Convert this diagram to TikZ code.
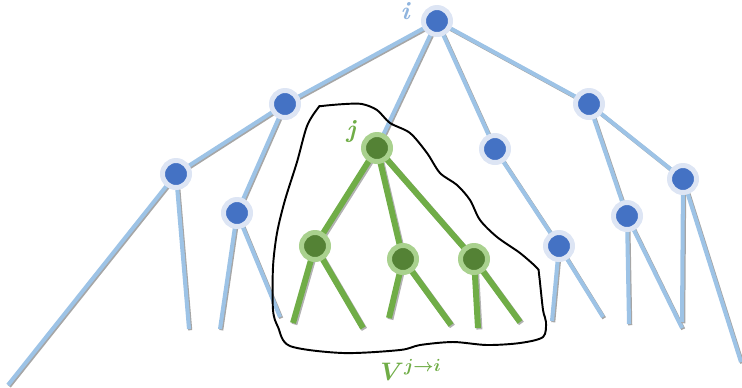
\documentclass[tikz,border=0pt]{standalone}
\usepackage{amsmath,amssymb,bm}
\usetikzlibrary{shadows,backgrounds}

\definecolor{edgeblue}{HTML}{9DC3E6}
\definecolor{ringblue}{HTML}{DDE5F4}
\definecolor{coreblue}{HTML}{4472C4}
\definecolor{edgegreen}{HTML}{70AD47}
\definecolor{ringgreen}{HTML}{A9D18E}
\definecolor{coregreen}{HTML}{548235}
\definecolor{labelblue}{HTML}{8FB4DE}

\tikzset{
  bnode/.style={circle, fill=coreblue, draw=ringblue, line width=0.1cm,
    minimum size=0.54cm, inner sep=0pt,
    drop shadow={shadow xshift=0.8pt, shadow yshift=-0.8pt, opacity=0.35}},
  gnode/.style={bnode, fill=coregreen, draw=ringgreen},
  bedge/.style={draw=edgeblue, line width=2.3pt,
    preaction={draw=black!35, line width=2.3pt,
      transform canvas={shift={(0.7pt,-0.7pt)}}}},
  gedge/.style={draw=edgegreen, line width=3.4pt,
    preaction={draw=black!30, line width=3.4pt,
      transform canvas={shift={(0.8pt,-0.8pt)}}}}
}

\begin{document}
\begin{tikzpicture}[x=0.02cm, y=-0.02cm]
\useasboundingbox (0,0) rectangle (742,387);
%\draw[step=50,gray,very thin] (0,0) grid (742,387);
% blue nodes
\node[bnode] (i) at (437,21) {};
\node[bnode] (a) at (285,104) {};
\node[bnode] (b) at (176,174) {};
\node[bnode] (c) at (237,213) {};
\node[bnode] (d) at (495,149) {};
\node[bnode] (e) at (589,104) {};
\node[bnode] (f) at (559,246) {};
\node[bnode] (g) at (627,216) {};
\node[bnode] (h) at (683,179) {};
% green subtree
\node[gnode] (j) at (377,148) {};
\node[gnode] (j1) at (315,246) {};
\node[gnode] (j2) at (403,259) {};
\node[gnode] (j3) at (474,259) {};
% leaves
\coordinate (b1) at (8,385);
\coordinate (b2) at (189,329);
\coordinate (c1) at (220,329);
\coordinate (c2) at (280,317);
\coordinate (f1) at (552,321);
\coordinate (f2) at (603,317);
\coordinate (g1) at (629,324);
\coordinate (g2) at (682,328);
\coordinate (h1) at (682,322);
\coordinate (h2) at (741,362);
\coordinate (k1) at (293,323);
\coordinate (k2) at (363,328);
\coordinate (k3) at (389,318);
\coordinate (k4) at (451,325);
\coordinate (k5) at (478,328);
\coordinate (k6) at (520,322);

\begin{pgfonlayer}{background}
\draw[bedge] (i.center) -- (a.center);
\draw[bedge] (i.center) -- (j.center);
\draw[bedge] (i.center) -- (d.center);
\draw[bedge] (i.center) -- (e.center);
\draw[bedge] (a.center) -- (b.center);
\draw[bedge] (a.center) -- (c.center);
\draw[bedge] (b.center) -- (b1);
\draw[bedge] (b.center) -- (b2);
\draw[bedge] (c.center) -- (c1);
\draw[bedge] (c.center) -- (c2);
\draw[bedge] (d.center) -- (f.center);
\draw[bedge] (f.center) -- (f1);
\draw[bedge] (f.center) -- (f2);
\draw[bedge] (e.center) -- (g.center);
\draw[bedge] (e.center) -- (h.center);
\draw[bedge] (g.center) -- (g1);
\draw[bedge] (g.center) -- (g2);
\draw[bedge] (h.center) -- (h1);
\draw[bedge] (h.center) -- (h2);
\draw[gedge] (j.center) -- (j1.center);
\draw[gedge] (j.center) -- (j2.center);
\draw[gedge] (j.center) -- (j3.center);
\draw[gedge] (j1.center) -- (k1);
\draw[gedge] (j1.center) -- (k2);
\draw[gedge] (j2.center) -- (k3);
\draw[gedge] (j2.center) -- (k4);
\draw[gedge] (j3.center) -- (k5);
\draw[gedge] (j3.center) -- (k6);
\end{pgfonlayer}

% region around the subtree of j
\draw[line width=1.1pt] plot[smooth cycle, tension=0.5] coordinates {(318,108) (322,106) (345,104) (362,104) (377,110) (390,123) (410,133) (427,153) (440,173) (457,185) (470,200) (480,220) (497,237) (520,253) (537,268) (539,274) (543,310) (546,322) (543,337) (520,343) (487,345) (453,342) (420,345) (400,350) (343,353) (290,346) (278,327) (273,310) (273,267) (277,233) (285,200) (297,162) (307,126)};

\node[text=labelblue, font=\Large\bfseries\itshape] (li) at (405,11) {i};
\node[text=edgegreen, font=\Large\bfseries\itshape] (lj) at (351,132) {j};
\node[text=edgegreen, font=\Large] (lv) at (411,370) {$\bm{V^{j\to i}}$};
\end{tikzpicture}
\end{document}
